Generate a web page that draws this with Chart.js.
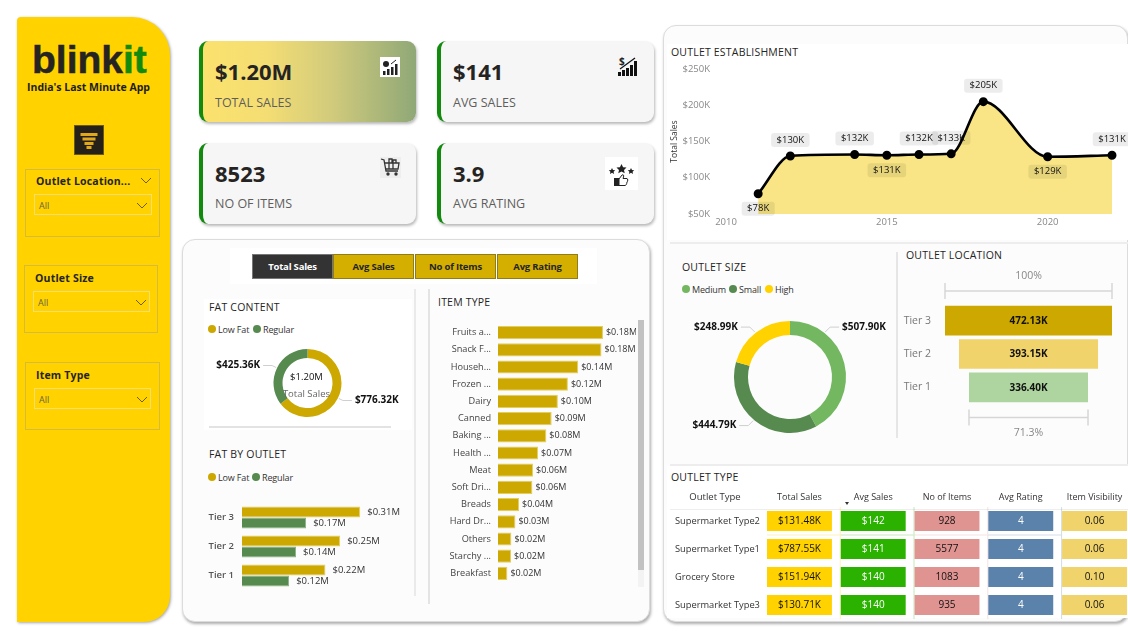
<!DOCTYPE html>
<html><head><meta charset="utf-8">
<script src="https://cdn.jsdelivr.net/npm/chart.js@4"></script>
<style>
html,body{margin:0;padding:0;background:#fff;width:1128px;height:638px;overflow:hidden;font-family:"Open Sans","Noto Sans",sans-serif;color:#252423}
.a{position:absolute;box-sizing:border-box}
.a svg{display:block}
.t{position:absolute;white-space:nowrap;line-height:1;transform:translateY(-50%)}
canvas{position:absolute}
.card{position:absolute;box-sizing:border-box;width:217px;height:81px;background:#f6f6f6;border-radius:9px;border-left:4px solid #118a0e;box-shadow:1px 2px 3px rgba(0,0,0,.28)}
.slicer{position:absolute;box-sizing:border-box;border:1px solid #d6bb3a}
.drop{position:absolute;box-sizing:border-box;border:1.5px solid #f2df70}
.title{font-size:10.5px;color:#252423;letter-spacing:.2px}
.btn{position:absolute;top:254px;height:25px;width:81px;font-size:9.5px;font-weight:700;text-align:center;line-height:24px;background:#d4af00;border:1px solid #8f7d1c;box-sizing:border-box;color:#252423;letter-spacing:-.2px}
.dot{position:absolute;width:8px;height:8px;border-radius:50%;transform:translate(-50%,-50%)}
</style></head><body>
<div id="root"></div>
<script>
// ---------- data ----------
const kpiValues = ['$1.20M','$141','8523','3.9'];
const kpiNames = ['TOTAL SALES','AVG SALES','NO OF ITEMS','AVG RATING'];
const buttonNames = ['Total Sales','Avg Sales','No of Items','Avg Rating'];
const slicerNames = ['Outlet Location...','Outlet Size','Item Type'];

const fatNames = ['Low Fat','Regular'];
const fatSales = [776.32,425.36];

const tierNames = ['Tier 3','Tier 2','Tier 1'];
const tierLowFat = [0.306,0.254,0.216];
const tierRegular = [0.166,0.14,0.122];
const tierTotals = [472.13,393.15,336.40];

const itemNames = ['Fruits a...','Snack F...','Househ...','Frozen ...','Dairy','Canned','Baking ...','Health ...','Meat','Soft Dri...','Breads','Hard Dr...','Others','Starchy ...','Breakfast'];
const itemSales = [0.178,0.1755,0.136,0.1185,0.1015,0.091,0.082,0.068,0.0595,0.0583,0.0357,0.0295,0.0227,0.0221,0.0159];

const years = [2011,2012,2014,2015,2016,2017,2018,2020,2022];
const yearSales = [78,130,132,131,132,133,205,129,131];

const sizeNames = ['Medium','Small','High'];
const sizeSales = [507.90,444.79,248.99];

const typeNames = ['Supermarket Type2','Supermarket Type1','Grocery Store','Supermarket Type3'];
const typeHeaders = ['Total Sales','Avg Sales','No of Items','Avg Rating','Item Visibility'];
const typeTotalSales = [131.48,787.55,151.94,130.71];
const typeAvgSales = [142,141,140,140];
const typeItems = [928,5577,1083,935];
const typeRating = [4,4,4,4];
const typeVisibility = [0.06,0.06,0.10,0.06];

// ---------- palette ----------
const GOLD='#cca800', GREEN='#568a4f', MED='#73b761', YEL='#ffd200', EDGE='#e2cd62';
const FONT='"Open Sans","Noto Sans",sans-serif';
const root=document.getElementById('root');
function div(cls,style,html){const d=document.createElement('div');d.className=cls;d.style.cssText=style;if(html!=null)d.innerHTML=html;root.appendChild(d);return d;}
function text(x,y,s,style){return div('t',`left:${x}px;top:${y}px;${style||''}`,s);}
function legend(names,colors,xs,y){names.forEach((n,i)=>{div('dot',`left:${xs[i]}px;top:${y}px;background:${colors[i]}`);text(xs[i]+6,y,n,'font-size:9px;color:#333;letter-spacing:-.15px');});}
function chev(x,y,c){div('a',`left:${x}px;top:${y}px;width:12px;height:7px`,`<svg width="12" height="7"><path d="M1 1l5 5 5-5" fill="none" stroke="${c||'#6b5f20'}" stroke-width="1"/></svg>`);}
function mk(left,top,w,h,config){const c=document.createElement('canvas');c.width=w;c.height=h;c.style.cssText=`left:${left}px;top:${top}px;width:${w}px;height:${h}px`;root.appendChild(c);
  config.options=Object.assign({responsive:false,animation:false,devicePixelRatio:1},config.options);return new Chart(c,config);}
Chart.defaults.font.family=FONT;
const noLegend={legend:{display:false},tooltip:{enabled:false}};
const noGrid={display:false,drawTicks:false};
const fitW=w=>a=>{a.width=w;a.paddingTop=0;a.paddingBottom=0;};
const fitH=h=>a=>{a.height=h;a.paddingLeft=0;a.paddingRight=0;};

// ---------- sidebar ----------
div('a','left:17px;top:17px;width:153px;height:605px;background:#ffd200;border-radius:4px 38px 26px 0;box-shadow:1px 1px 3px rgba(0,0,0,.35)');
div('t','left:32px;top:59px;font-size:39px;font-weight:700;color:#252423;font-family:"Liberation Sans";-webkit-text-stroke:.5px #252423','blink<span style="color:#118a0e;-webkit-text-stroke:.5px #118a0e">it</span>');
text(27,87,"India's Last Minute App",'font-size:10.5px;font-weight:700;color:#1c1c1c');
div('a','left:74px;top:125px;width:30px;height:30px;background:#252118;border:1px solid #6a5a1a','<svg width="28" height="28"><g fill="#e0a81c"><rect x="5.5" y="7" width="17" height="3"/><rect x="7.5" y="11.5" width="13" height="3"/><rect x="9.5" y="16" width="9" height="3"/><rect x="11.5" y="20" width="5" height="3"/></g></svg>');
[[25,169,135,68,36,181,34,194,118,21],[24,265,134,68,35,278,33,291,117,21],[25,362,135,68,36,375,34,388,117,21]].forEach((b,i)=>{
  div('slicer',`left:${b[0]}px;top:${b[1]}px;width:${b[2]}px;height:${b[3]}px`);
  text(b[4],b[5],slicerNames[i],'font-size:10.5px;font-weight:700;color:#252423;letter-spacing:.2px');
  div('drop',`left:${b[6]}px;top:${b[7]}px;width:${b[8]}px;height:${b[9]}px`);
  text(b[6]+5,b[7]+11,'All','font-size:9px;color:#6b6440');
  chev(b[6]+102,b[7]+8);
});
chev(140,177);

// ---------- KPI cards ----------
const cardPos=[[199,41],[437,41],[199,143],[437,143]];
cardPos.forEach((p,i)=>{
  const bg=i===0?'background:linear-gradient(90deg,#fbe26e 0%,#f4dd73 30%,#d2cb7c 60%,#8fa877 100%);':'';
  div('card',`left:${p[0]}px;top:${p[1]}px;${bg}`);
  text(p[0]+16,p[1]+30,kpiValues[i],'font-size:22px;font-weight:700;color:#252423');
  text(p[0]+16,p[1]+(i<2?61.5:60.5),kpiNames[i],'font-size:12.5px;color:#605e5c');
});
const icoBars='<g fill="#222"><rect x="3" y="14" width="2.5" height="4"/><rect x="7" y="12" width="2.5" height="6"/><rect x="11" y="10" width="2.5" height="8"/><rect x="15" y="7" width="2.5" height="11"/></g>';
div('a','left:380px;top:57px;width:20px;height:20px;background:#fff',`<svg width="20" height="20">${icoBars}<circle cx="6" cy="7" r="3" fill="#222"/><path d="M11 7l5-4" stroke="#222" fill="none"/></svg>`);
div('a','left:617px;top:56px;width:21px;height:20px',`<svg width="21" height="20"><text x="2" y="9" font-size="10" font-weight="700" font-family="Open Sans" fill="#222">$</text><g fill="#111"><rect x="1" y="16" width="3" height="4"/><rect x="5" y="14" width="3" height="6"/><rect x="9" y="12" width="3" height="8"/><rect x="13" y="9" width="3" height="11"/><rect x="17" y="5" width="3" height="15"/></g><path d="M3 13L18 2" stroke="#111" stroke-width="1.2"/></svg>`);
div('a','left:380px;top:157px;width:21px;height:21px;background:#eee',`<svg width="21" height="21"><g fill="none" stroke="#333" stroke-width="1.3"><path d="M1 2l3 1 2 11h12"/><path d="M5 6h14l-1 6H6"/><path d="M9 6V2h3v4M13 6V3h3v3M9 6v6M13 6v6"/></g><circle cx="8" cy="17" r="1.7" fill="#333"/><circle cx="16" cy="17" r="1.7" fill="#333"/></svg>`);
div('a','left:605px;top:157px;width:33px;height:33px;background:#fff',`<svg width="33" height="33"><g fill="#222"><path d="M16.5 7l1.6 3.2 3.4.4-2.5 2.3.7 3.4-3.2-1.7-3.2 1.7.7-3.4-2.5-2.3 3.4-.4z"/><path d="M7 11l1 2 2.2.2-1.6 1.5.5 2.2-2.1-1.1-2 1.1.4-2.2L3.8 13.200 6 13z"/><path d="M26 11l1 2 2.200.2-1.6 1.500.4 2.200-2-1.100-2.100 1.100.5-2.200-1.600-1.500L25 13z"/><rect x="9" y="21" width="5" height="8"/></g><path d="M14 22l3-4c1.500-1 2 .5 1.500 2l-.5 1.500h4c1 0 1 3 0 3.500-.2 2-1 3.500-2 3.500H14z" fill="#fff" stroke="#222"/></svg>`);

// ---------- left panel ----------
div('a','left:182px;top:239px;width:468px;height:383px;background:#fcfcfc;border:1px solid #dcdcdc;border-radius:13px;box-shadow:1px 2px 3px rgba(0,0,0,.32)');
div('a','left:230px;top:248px;width:367px;height:36px;background:#fff');
[252,333,415,497].forEach((x,i)=>div('btn',`left:${x}px;${i===0?'background:#333;color:#fff;border-color:#777;':''}`,buttonNames[i]));
div('a','left:204px;top:299px;width:208px;height:131px;background:#fff');
div('a','left:209px;top:426px;width:182px;height:1.5px;background:#e3e3e3');
div('a','left:414px;top:289px;width:2px;height:307px;background:#eaeaea');
div('a','left:428px;top:289px;width:2px;height:315px;background:#e4e4e4');
text(209,307,'FAT CONTENT','').className+=' title';
legend(fatNames,[GOLD,GREEN],[212,257],329);
text(209,454,'FAT BY OUTLET','').className+=' title';
legend(fatNames,[GOLD,GREEN],[212,256],477);
text(438,302,'ITEM TYPE','').className+=' title';
div('a','left:638px;top:320px;width:6px;height:267px;background:#f3f3f3');
div('a','left:638px;top:320px;width:6px;height:250px;background:#c2c2c2');

// doughnut label helper: a leader line from a point on a slice to a bold label
function donutLabels(values,fmtOpts){return {id:'donutLabels',afterDatasetsDraw(chart){
  const ctx=chart.ctx,meta=chart.getDatasetMeta(0);
  ctx.save();ctx.font='700 10px '+FONT;ctx.fillStyle='#111';ctx.textBaseline='middle';
  meta.data.forEach((arc,i)=>{
    const o=fmtOpts[i],ang=arc.startAngle+(arc.endAngle-arc.startAngle)*o.frac;
    const ex=arc.x+Math.cos(ang)*(arc.outerRadius+1),ey=arc.y+Math.sin(ang)*(arc.outerRadius+1);
    const sx=Math.cos(ang)>=0?1:-1,sy=Math.sin(ang)>=0?1:-1;
    const mx=ex+sx*o.elbow,my=ey+sy*o.drop,tx=mx+sx*o.run;
    ctx.strokeStyle='#cfcfcf';ctx.lineWidth=1;ctx.beginPath();ctx.moveTo(ex,ey);ctx.lineTo(mx,my);ctx.lineTo(tx,my);ctx.stroke();
    ctx.textAlign=sx>0?'left':'right';
    ctx.fillText('$'+values[i].toFixed(2)+'K',tx+sx*3,my);
  });ctx.restore();
}};}

// FAT CONTENT doughnut
mk(205,338,205,90,{type:'doughnut',data:{labels:fatNames,datasets:[{data:fatSales,backgroundColor:[GOLD,GREEN],borderWidth:0}]},
  options:{cutout:'73.5%',layout:{padding:11},plugins:noLegend},
  plugins:[donutLabels(fatSales,[{frac:.5,elbow:4,drop:2,run:9},{frac:.5,elbow:4,drop:2,run:9}]),
   {id:'centre',afterDatasetsDraw(c){const m=c.getDatasetMeta(0).data[0],x=m.x,y=m.y,t=c.ctx;t.save();t.textAlign='center';t.textBaseline='middle';
     t.font='9.5px '+FONT;t.fillStyle='#111';t.fillText('$1.20M',x-1,y-6);t.font='9.5px '+FONT;t.fillStyle='#666';t.fillText('Total Sales',x-1,y+11);t.restore();}}]});

// horizontal bar value labels
function barLabels(font,color,gap){return {id:'barLabels',afterDatasetsDraw(chart){
  const ctx=chart.ctx;ctx.save();ctx.font=font;ctx.fillStyle=color;ctx.textAlign='left';ctx.textBaseline='middle';
  chart.data.datasets.forEach((ds,di)=>chart.getDatasetMeta(di).data.forEach((b,i)=>{ctx.fillText('$'+ds.data[i].toFixed(2)+'M',b.x+gap,b.y);}));
  ctx.restore();}};}

// FAT BY OUTLET
mk(205,503,207,87,{type:'bar',data:{labels:tierNames,datasets:[
   {label:fatNames[0],data:tierLowFat,backgroundColor:GOLD,borderColor:EDGE,borderWidth:1},{label:fatNames[1],data:tierRegular,backgroundColor:GREEN,borderColor:'#8bb085',borderWidth:1}]},
  options:{indexAxis:'y',layout:{padding:0},plugins:noLegend,
   datasets:{bar:{barPercentage:1,categoryPercentage:.76}},
   scales:{x:{display:false,min:0,max:.44},y:{grid:noGrid,border:{display:false},afterFit:fitW(37),
     ticks:{padding:8,color:'#555',font:{size:9.5,weight:'600'}}}}},
  plugins:[barLabels('9.5px '+FONT,'#333',7)]});

// ITEM TYPE
mk(430,324,206,258,{type:'bar',data:{labels:itemNames,datasets:[{data:itemSales,backgroundColor:GOLD,borderColor:EDGE,borderWidth:1}]},
  options:{indexAxis:'y',layout:{padding:0},plugins:noLegend,
   datasets:{bar:{barPercentage:1,categoryPercentage:.77}},
   scales:{x:{display:false,min:0,max:.234},y:{grid:noGrid,border:{display:false},afterFit:fitW(68),
     ticks:{autoSkip:false,padding:7,color:'#444',font:{size:9.2}}}}},
  plugins:[barLabels('9px '+FONT,'#333',3)]});

// ---------- right panel ----------
div('a','left:663px;top:25px;width:465px;height:597px;background:#fcfcfc;border:1px solid #dcdcdc;border-radius:13px;box-shadow:1px 2px 3px rgba(0,0,0,.32)');
div('a','left:667px;top:44px;width:461px;height:196px;background:#fff');
div('a','left:670px;top:242px;width:458px;height:2px;background:#ededed');
div('a','left:670px;top:464px;width:458px;height:2px;background:#ededed');
div('a','left:667px;top:466px;width:461px;height:152px;background:#fff');
div('a','left:896px;top:252px;width:2px;height:186px;background:#e6e6e6');
text(671,52,'OUTLET ESTABLISHMENT','').className+=' title';
text(682,267,'OUTLET SIZE','').className+=' title';
text(906,255,'OUTLET LOCATION','').className+=' title';
text(671,477,'OUTLET TYPE','').className+=' title';
legend(sizeNames,[MED,GREEN,YEL],[686,733,769],289);

// OUTLET ESTABLISHMENT
const belowYears=[2011,2015,2020];
mk(667,61,461,170,{type:'line',data:{datasets:[{data:years.map((y,i)=>({x:y,y:yearSales[i]})),
    borderColor:'#000',borderWidth:2.6,backgroundColor:'#f9e585',fill:'start',cubicInterpolationMode:'monotone',clip:false,
    pointRadius:3.2,pointBackgroundColor:'#000',pointBorderColor:'#000'}]},
  options:{layout:{padding:{top:8,right:16,left:0,bottom:0}},plugins:noLegend,
   scales:{
    x:{type:'linear',min:2010,max:2022,grid:noGrid,border:{display:false},afterFit:fitH(17),
       afterBuildTicks(a){a.ticks=a.ticks.filter(t=>t.value%5===0);},
       ticks:{stepSize:5,color:'#888',padding:3,maxRotation:0,font:{size:9.5},callback:v=>String(v)}},
    y:{min:50,max:250,grid:noGrid,border:{display:false},afterFit:fitW(59),
       title:{display:true,text:'Total Sales',color:'#333',font:{size:8.5},padding:{top:2,bottom:0}},
       ticks:{stepSize:50,color:'#888',padding:16,font:{size:9.5},callback:v=>'$'+v+'K'}}}},
  plugins:[{id:'pointLabels',afterDatasetsDraw(c){const t=c.ctx;t.save();t.font='9.5px '+FONT;t.textAlign='center';t.textBaseline='middle';
    c.getDatasetMeta(0).data.forEach((p,i)=>{const s='$'+yearSales[i]+'K',w=t.measureText(s).width+11,by=p.y+(belowYears.includes(years[i])?15:-16);
      t.fillStyle='rgba(0,0,0,.075)';t.beginPath();t.roundRect(p.x-w/2,by-7,w,14,3);t.fill();t.fillStyle='#111';t.fillText(s,p.x,by);});t.restore();}}]});

// OUTLET SIZE
mk(680,312,220,130,{type:'doughnut',data:{labels:sizeNames,datasets:[{data:sizeSales,backgroundColor:[MED,GREEN,YEL],borderWidth:0}]},
  options:{cutout:'75%',layout:{padding:9},plugins:noLegend},
  plugins:[donutLabels(sizeSales,[{frac:.25,elbow:5,drop:5,run:9},{frac:.51,elbow:5,drop:5,run:9},{frac:.49,elbow:5,drop:5,run:9}])]});

// OUTLET LOCATION funnel
const half=tierTotals[0]/2;
mk(900,268,213,172,{type:'bar',data:{labels:tierNames,datasets:[{data:tierTotals.map(v=>[-v/2,v/2]),
    backgroundColor:[GOLD,'#f0d36b','#aed5a0']}]},
  options:{indexAxis:'y',layout:{padding:{top:36,bottom:36,left:0,right:1}},plugins:noLegend,
   datasets:{bar:{barPercentage:1,categoryPercentage:.89}},
   scales:{x:{display:false,min:-half,max:half},y:{grid:noGrid,border:{display:false},afterFit:fitW(45),
     ticks:{padding:14,color:'#777',font:{size:10.5}}}}},
  plugins:[{id:'funnelLabels',afterDatasetsDraw(c){const t=c.ctx,sx=c.scales.x;t.save();t.textAlign='center';t.textBaseline='middle';
    t.font='700 10px '+FONT;t.fillStyle='#111';
    c.getDatasetMeta(0).data.forEach((b,i)=>t.fillText(tierTotals[i].toFixed(2)+'K',sx.getPixelForValue(0),b.y+.5));
    const last=tierTotals[tierTotals.length-1],top=c.chartArea.top,bot=c.chartArea.bottom;
    const br=(v,y)=>{const l=sx.getPixelForValue(-v/2),r=sx.getPixelForValue(v/2);t.strokeStyle='#d6d6d6';t.lineWidth=1.5;t.beginPath();
      t.moveTo(l,y-8);t.lineTo(l,y+8);t.moveTo(l,y);t.lineTo(r,y);t.moveTo(r,y-8);t.lineTo(r,y+8);t.stroke();};
    br(tierTotals[0],top-13);br(last,bot+13.5);
    t.font='10.5px '+FONT;t.fillStyle='#888';
    t.fillText('100%',sx.getPixelForValue(0),top-28);
    t.fillText((last/tierTotals[0]*100).toFixed(1)+'%',sx.getPixelForValue(0),bot+29);t.restore();}}]});

// OUTLET TYPE table, cells are floating bars on a column scale
const cellWidth=.88;
const typeCols=[
 {vals:typeTotalSales,color:YEL,ink:'#111',fmt:v=>'$'+v.toFixed(2)+'K'},
 {vals:typeAvgSales,color:'#2bb100',ink:'#fff',fmt:v=>'$'+v},
 {vals:typeItems,color:'#e09492',ink:'#111',fmt:v=>String(v)},
 {vals:typeRating,color:'#5a82ab',ink:'#fff',fmt:v=>String(v)},
 {vals:typeVisibility,color:'#f0d36b',ink:'#111',fmt:v=>v.toFixed(2)}];
div('a','left:670px;top:509px;width:458px;height:1px;background:#eee');
mk(675,487,453,132,{type:'bar',data:{labels:typeNames,datasets:typeCols.map((c,i)=>({label:typeHeaders[i],data:typeNames.map(()=>[i,i+cellWidth]),backgroundColor:c.color}))},
  options:{indexAxis:'y',layout:{padding:{right:1}},plugins:noLegend,
   datasets:{bar:{barPercentage:1,categoryPercentage:.715,grouped:false}},
   scales:{
    x:{position:'top',min:0,max:4+cellWidth,grid:noGrid,border:{display:false},afterFit:fitH(20),
       afterBuildTicks(a){a.ticks=typeHeaders.map((h,i)=>({value:i+cellWidth/2,label:h}));},
       afterTickToLabelConversion(a){a.ticks.forEach((t,i)=>{t.label=typeHeaders[i];});},
       ticks:{autoSkip:false,maxRotation:0,padding:4,color:'#333',font:{size:9}}},
    y:{grid:noGrid,border:{display:false},afterFit:fitW(92),
       ticks:{crossAlign:'far',color:'#333',font:{size:9.3}}}}},
  plugins:[{id:'cellRules',beforeDatasetsDraw(c){const t=c.ctx,sx=c.scales.x,a=c.chartArea,sy=c.scales.y;t.save();t.globalAlpha=.28;t.lineWidth=1;
      const rowRule=(sy.getPixelForValue(0)+sy.getPixelForValue(1))/2;
      typeCols.slice(0,4).forEach((col,i)=>{const l=sx.getPixelForValue(i),r=sx.getPixelForValue(i+1)-1;t.strokeStyle=col.color;t.beginPath();t.moveTo(r+.5,a.top);t.lineTo(r+.5,a.bottom);t.moveTo(l,rowRule);t.lineTo(r,rowRule);t.stroke();});
      t.restore();},
    afterDatasetsDraw(c){const t=c.ctx;t.save();t.textAlign='center';t.textBaseline='middle';t.font='10px '+FONT;
    typeCols.forEach((col,di)=>c.getDatasetMeta(di).data.forEach((b,i)=>{t.fillStyle=col.ink;t.fillText(col.fmt(col.vals[i]),c.scales.x.getPixelForValue(di+cellWidth/2),b.y);}));
    t.fillStyle='#333';t.font='9.5px '+FONT;t.fillText('Outlet Type',40,10);t.restore();}}]});
div('a','left:844.5px;top:502px;width:0;height:0;border-left:2.5px solid transparent;border-right:2.5px solid transparent;border-top:3px solid #333');
</script>
</body></html>
